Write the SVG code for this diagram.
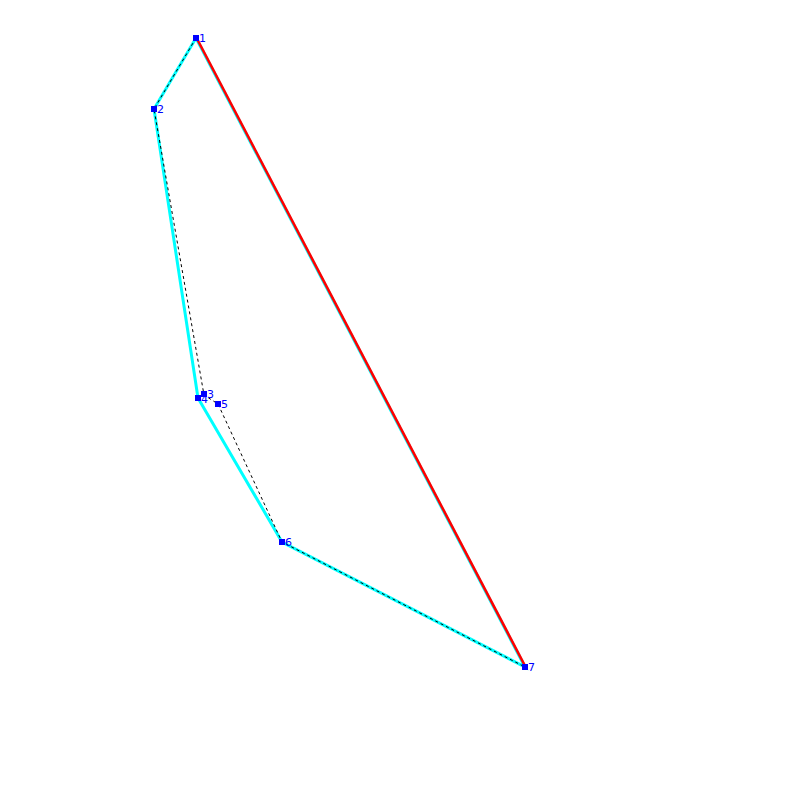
<svg xmlns="http://www.w3.org/2000/svg" width="800" height="800" viewBox="0 0 800 800">
<style>
.hull{fill:none;stroke:#00ffff;stroke-width:3}
.dash{fill:none;stroke:#000;stroke-width:1;stroke-dasharray:3,3}
.red{stroke:#ff0000;stroke-width:2.6}
.pt{fill:#0000ff}
.lbl{fill:#0000ff;font-family:"DejaVu Sans",sans-serif;font-size:11px}
</style>
<rect width="800" height="800" fill="#fff"/>
<g id="connectors">
<polygon class="hull" points="196,38 154,109 198,398 282,542 525,667"/>
<polyline class="dash" points="196,38 154,109 204,395 218,404 282,542 525,667"/>
<line class="red" x1="196.6" y1="38" x2="525.6" y2="667"/>
</g>
<g id="p4"><rect class="pt" x="195" y="395" width="6" height="6"/><text class="lbl" x="201" y="403">4</text></g>
<g id="p1"><rect class="pt" x="193" y="35" width="6" height="6"/><text class="lbl" x="199" y="42">1</text></g>
<g id="p2"><rect class="pt" x="151" y="106" width="6" height="6"/><text class="lbl" x="157" y="113">2</text></g>
<g id="p3"><rect class="pt" x="201" y="391" width="6" height="6"/><text class="lbl" x="207" y="398">3</text></g>
<g id="p5"><rect class="pt" x="215" y="401" width="6" height="6"/><text class="lbl" x="221" y="408">5</text></g>
<g id="p6"><rect class="pt" x="279" y="539" width="6" height="6"/><text class="lbl" x="285" y="546">6</text></g>
<g id="p7"><rect class="pt" x="522" y="664" width="6" height="6"/><text class="lbl" x="528" y="671">7</text></g>
</svg>
